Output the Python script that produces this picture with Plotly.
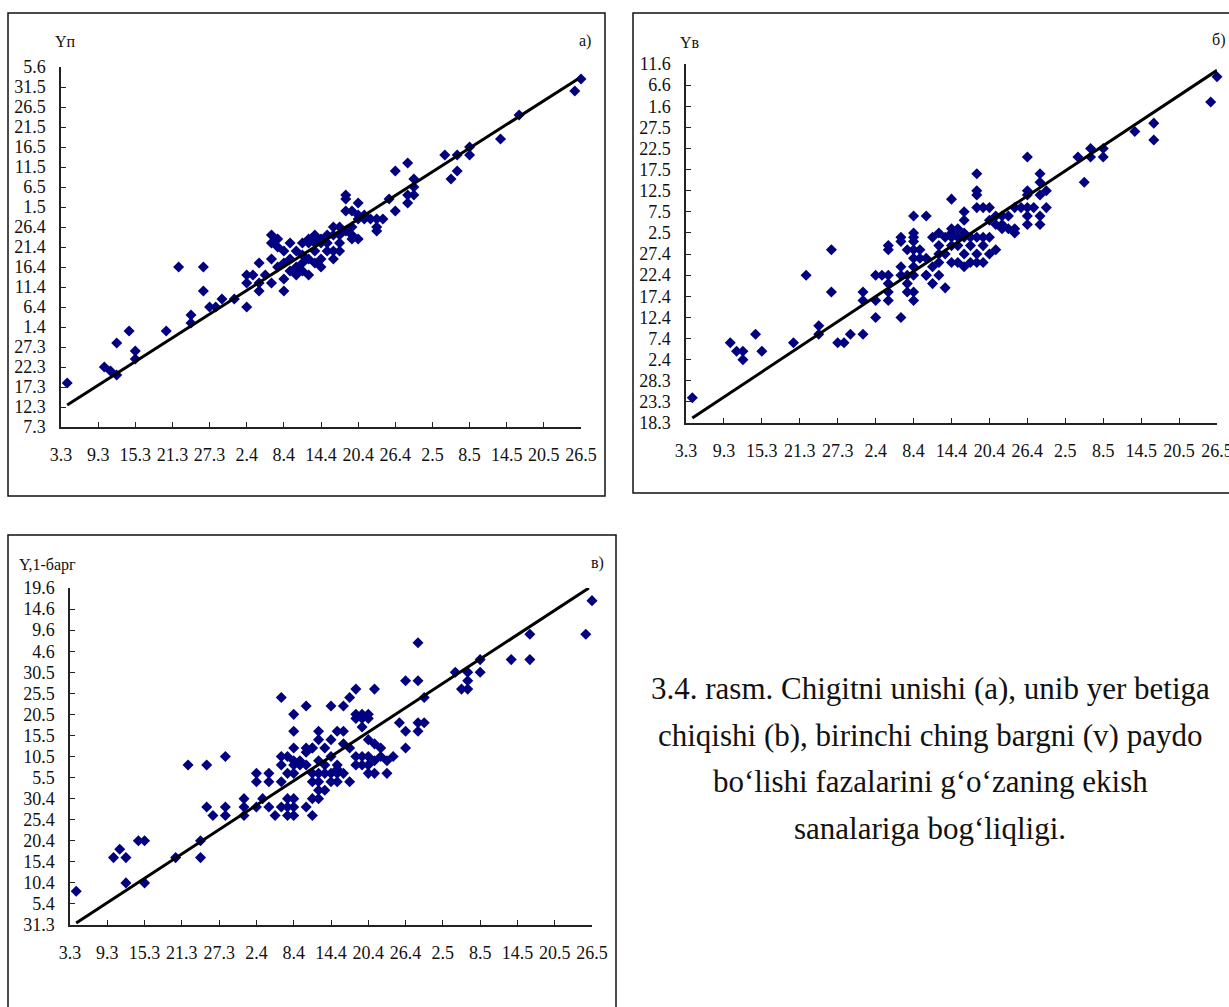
import plotly.graph_objects as go

W, H = 1229, 1007

# Sowing dates (x axis), 6-day steps starting 3 March
x_tick_labels = ["3.3", "9.3", "15.3", "21.3", "27.3", "2.4", "8.4", "14.4",
                 "20.4", "26.4", "2.5", "8.5", "14.5", "20.5", "26.5"]

# Phase dates (y axes), 5-day steps
ya_tick_labels = ["7.3", "12.3", "17.3", "22.3", "27.3", "1.4", "6.4", "11.4", "16.4",
                  "21.4", "26.4", "1.5", "6.5", "11.5", "16.5", "21.5", "26.5", "31.5", "5.6"]
yb_tick_labels = ["18.3", "23.3", "28.3", "2.4", "7.4", "12.4", "17.4", "22.4", "27.4",
                  "2.5", "7.5", "12.5", "17.5", "22.5", "27.5", "1.6", "6.6", "11.6"]
yc_tick_labels = ["31.3", "5.4", "10.4", "15.4", "20.4", "25.4", "30.4", "5.5", "10.5",
                  "15.5", "20.5", "25.5", "30.5", "4.6", "9.6", "14.6", "19.6"]

# a) germination: (days after 3.3, days after 7.3)
a_x = [1, 7, 8, 9, 9, 11, 12, 12, 17, 19, 21, 21, 23, 23, 24, 25, 26, 28, 30, 30, 30, 31, 32, 32, 32,
       34, 34, 35, 35, 34, 35, 36, 36, 37, 37, 38, 39, 39, 40, 40, 41, 41,
       39, 41, 42, 43, 44, 45, 47, 48, 46, 51,
       84, 83, 74, 71, 66, 66, 64, 62, 64, 63, 56, 54, 57, 57, 57, 56, 56, 53, 54, 51, 52, 51, 50, 49,
       49, 48, 48, 48, 46, 46, 46, 47, 47, 47, 44, 45, 44, 41, 42, 40, 41,
       36, 37, 38, 39, 40, 42, 43, 44, 45, 38, 42, 43, 45, 36, 33, 34]
a_y = [11, 15, 14, 13, 21, 24, 19, 17, 24, 40, 28, 26, 40, 34, 30, 30, 32, 32, 38, 36, 30, 38, 41, 34, 36,
       48, 46, 45, 47, 36, 40, 37, 34, 46, 39, 38, 46, 39, 46, 38, 47, 41,
       41, 44, 46, 46, 44, 46, 47, 47, 49, 49,
       87, 84, 78, 72, 70, 68, 68, 68, 64, 62, 66, 64, 62, 60, 58, 58, 56, 57, 54, 52, 52, 50, 52, 53,
       52, 56, 53, 52, 58, 57, 54, 54, 50, 48, 50, 50, 48, 48, 47, 47, 46,
       44, 42, 44, 43, 42, 42, 44, 42, 44, 40, 40, 48, 48, 41, 38, 42]
a_trend_x = [1, 83.5]
a_trend_y = [5.5, 87]

# b) emergence: (days after 3.3, days after 18.3)
b_x = [1, 7, 8, 9, 9, 11, 12, 17, 19, 21, 21, 23, 23, 24, 25, 26, 28, 28, 28, 30, 30, 30, 31, 32, 32,
       32, 32, 32, 34, 34, 34, 34, 35, 35, 35, 35, 36, 36, 36, 36, 36, 36, 36, 36, 37, 37, 38,
       36, 38, 36, 34, 32,
       46, 46, 46, 46, 42, 47, 48, 44, 44, 49, 50, 51, 48, 49, 50, 52, 40, 41, 39, 42, 43, 44, 44,
       45, 46, 47, 48, 40,
       54, 56, 56, 57, 54, 54, 53, 54, 54, 54, 55, 56, 57, 56, 56, 52,
       62, 63, 64, 64, 66, 66, 71, 74, 74, 83, 84,
       38, 39, 38, 39, 40, 41, 42, 43, 44, 45, 46, 47, 48, 49, 44, 50, 51, 52, 42, 42, 43,
       40, 41, 42, 43, 45, 46, 40, 47]
b_y = [6, 19, 17, 17, 15, 21, 17, 19, 35, 23, 21, 41, 31, 19, 19, 21, 31, 29, 21, 35, 29, 25, 35, 41, 35,
       33, 31, 29, 43, 37, 35, 25, 41, 35, 33, 31, 45, 43, 41, 39, 37, 35, 31, 29, 41, 39, 35,
       49, 49, 44, 44, 42,
       59, 55, 54, 51, 53, 51, 51, 50, 48, 49, 49, 49, 48, 47, 47, 45, 45, 44, 44, 45, 44, 45, 44,
       44, 44, 44, 44, 42,
       63, 59, 57, 55, 55, 54, 51, 51, 49, 47, 51, 54, 51, 49, 47, 51,
       63, 57, 65, 63, 65, 63, 69, 71, 67, 76, 82,
       39, 37, 35, 33, 35, 32, 42, 42, 40, 42, 40, 42, 40, 41, 37, 46, 46, 46, 44, 46, 46,
       40, 40, 38, 38, 38, 38, 38, 38]
b_trend_x = [1, 84]
b_trend_y = [1.2, 83.5]

# c) first true leaf: (days after 3.3, days after 31.3)
c_x = [1, 7, 8, 9, 9, 11, 12, 12, 17, 21, 21, 19, 22, 22, 23, 25, 25, 28, 28, 28, 30, 30, 30, 31, 32,
       32, 32, 33, 34, 34, 34, 35, 35, 35, 36, 36, 36, 35, 36, 37, 36, 38, 38, 39, 39, 39, 40, 40,
       34, 38, 36, 36, 36, 25, 34, 35, 36, 37, 38, 39, 40, 40,
       84, 83, 74, 74, 71, 66, 66, 62, 64, 64, 63, 64, 56, 54, 56, 57, 49, 46, 45, 42, 44, 46, 47,
       48, 46, 47, 48, 47, 53, 54, 56, 57, 56, 54, 43, 44, 40, 42, 38, 39, 41, 44, 45, 46, 47, 48,
       49, 50, 48, 50, 52, 48, 48, 51, 42, 43, 41, 43,
       40, 40, 41, 42, 43, 45, 44, 49, 46, 47, 49, 51, 39, 41, 42, 43]
c_y = [8, 16, 18, 16, 10, 20, 20, 10, 16, 20, 16, 38, 38, 28, 26, 26, 28, 30, 28, 26, 36, 34, 28, 30, 36,
       34, 28, 26, 38, 34, 28, 30, 28, 26, 30, 28, 26, 36, 36, 38, 38, 38, 28, 26, 34, 30, 32, 36,
       54, 52, 50, 46, 42, 40, 40, 40, 39, 39, 41, 42, 46, 39,
       77, 69, 69, 63, 63, 63, 60, 60, 60, 58, 56, 56, 67, 58, 58, 54, 56, 56, 54, 52, 52, 50, 50,
       50, 49, 49, 49, 47, 48, 46, 48, 48, 46, 42, 46, 46, 44, 44, 42, 42, 42, 43, 42, 40, 40, 44,
       43, 42, 40, 40, 40, 38, 36, 36, 40, 38, 38, 36,
       30, 34, 32, 34, 34, 34, 36, 36, 38, 38, 39, 39, 36, 36, 36, 37]
c_trend_x = [1, 83.5]
c_trend_y = [0.5, 80]

MARKER = "#000080"
SERIF = "Liberation Serif, Times New Roman, DejaVu Serif, serif"
TICK_FONT = dict(family=SERIF, size=18, color="#111111")


def px_x(p):
    return p / W


def px_y(p):
    return 1 - p / H


# panel plot-area geometry in pixels: (left, right, top, bottom)
panels = [
    dict(x=a_x, y=a_y, tx=a_trend_x, ty=a_trend_y, yl=ya_tick_labels,
         box=(61, 581, 67, 427)),
    dict(x=b_x, y=b_y, tx=b_trend_x, ty=b_trend_y, yl=yb_tick_labels,
         box=(686, 1217, 64, 423)),
    dict(x=c_x, y=c_y, tx=c_trend_x, ty=c_trend_y, yl=yc_tick_labels,
         box=(70, 592, 588, 925)),
]

fig = go.Figure()
layout = dict(
    template="none",
    width=W, height=H, margin=dict(l=0, r=0, t=0, b=0, autoexpand=False),
    paper_bgcolor="white", plot_bgcolor="white", showlegend=False,
)

for i, p in enumerate(panels, start=1):
    sfx = "" if i == 1 else str(i)
    fig.add_trace(go.Scatter(
        x=p["x"], y=p["y"], mode="markers", cliponaxis=False,
        marker=dict(symbol="diamond", size=8.5, color=MARKER, line=dict(width=0)),
        xaxis="x" + sfx, yaxis="y" + sfx, hoverinfo="skip"))
    fig.add_trace(go.Scatter(
        x=p["tx"], y=p["ty"], mode="lines", cliponaxis=False,
        line=dict(color="black", width=3),
        xaxis="x" + sfx, yaxis="y" + sfx, hoverinfo="skip"))
    l, r, t, b = p["box"]
    n_y = len(p["yl"])
    layout["xaxis" + sfx] = dict(
        domain=[px_x(l), px_x(r)], range=[0, 84], anchor="y" + sfx, automargin=False,
        tickmode="array", tickvals=[6 * k for k in range(len(x_tick_labels))],
        ticktext=x_tick_labels, ticks="inside", ticklen=5, tickcolor="#222",
        showline=True, linecolor="#222", linewidth=1.5, showgrid=False, zeroline=False,
        tickfont=TICK_FONT, ticklabelstandoff=11, ticklabeloverflow="allow",
    )
    layout["yaxis" + sfx] = dict(
        domain=[px_y(b), px_y(t)], range=[0, 5 * (n_y - 1)], anchor="x" + sfx, automargin=False,
        tickmode="array", tickvals=[5 * k for k in range(n_y)],
        ticktext=p["yl"], ticks="inside", ticklen=5, tickcolor="#222",
        showline=True, linecolor="#222", linewidth=1.5, showgrid=False, zeroline=False,
        tickfont=TICK_FONT, ticklabelstandoff=10, ticklabeloverflow="allow",
    )

# frames around each chart
frame = dict(type="rect", xref="paper", yref="paper",
             line=dict(color="#111", width=1.5), fillcolor="rgba(0,0,0,0)")
layout["shapes"] = [
    dict(frame, x0=px_x(8), x1=px_x(605), y0=px_y(496), y1=px_y(13)),
    dict(frame, x0=px_x(633), x1=px_x(1240), y0=px_y(493), y1=px_y(13)),
    dict(frame, x0=px_x(8), x1=px_x(616), y0=px_y(1020), y1=px_y(535)),
]


def label(text, x, y, size=15, xanchor="center"):
    return dict(text=text, x=px_x(x), y=px_y(y), xref="paper", yref="paper",
                showarrow=False, xanchor=xanchor, yanchor="middle",
                font=dict(family=SERIF, size=size, color="#111"))


caption = [
    "3.4. rasm. Chigitni unishi (a), unib yer betiga",
    "chiqishi (b), birinchi ching bargni (v) paydo",
    "bo‘lishi fazalarini g‘o‘zaning ekish",
    "sanalariga bog‘liqligi.",
]
caption_y = [688, 735, 781, 828]

layout["annotations"] = [
    label("Yп", 65, 41, size=16),
    label("а)", 585, 41, size=16),
    label("Yв", 690, 42, size=16),
    label("б)", 1218, 40, size=16),
    label("Y,1-барг", 17, 565, size=16, xanchor="left"),
    label("в)", 597, 563, size=16),
] + [label(t, 930, yy, size=31) for t, yy in zip(caption, caption_y)]

fig.update_layout(**layout)
fig.write_html("out.html")
